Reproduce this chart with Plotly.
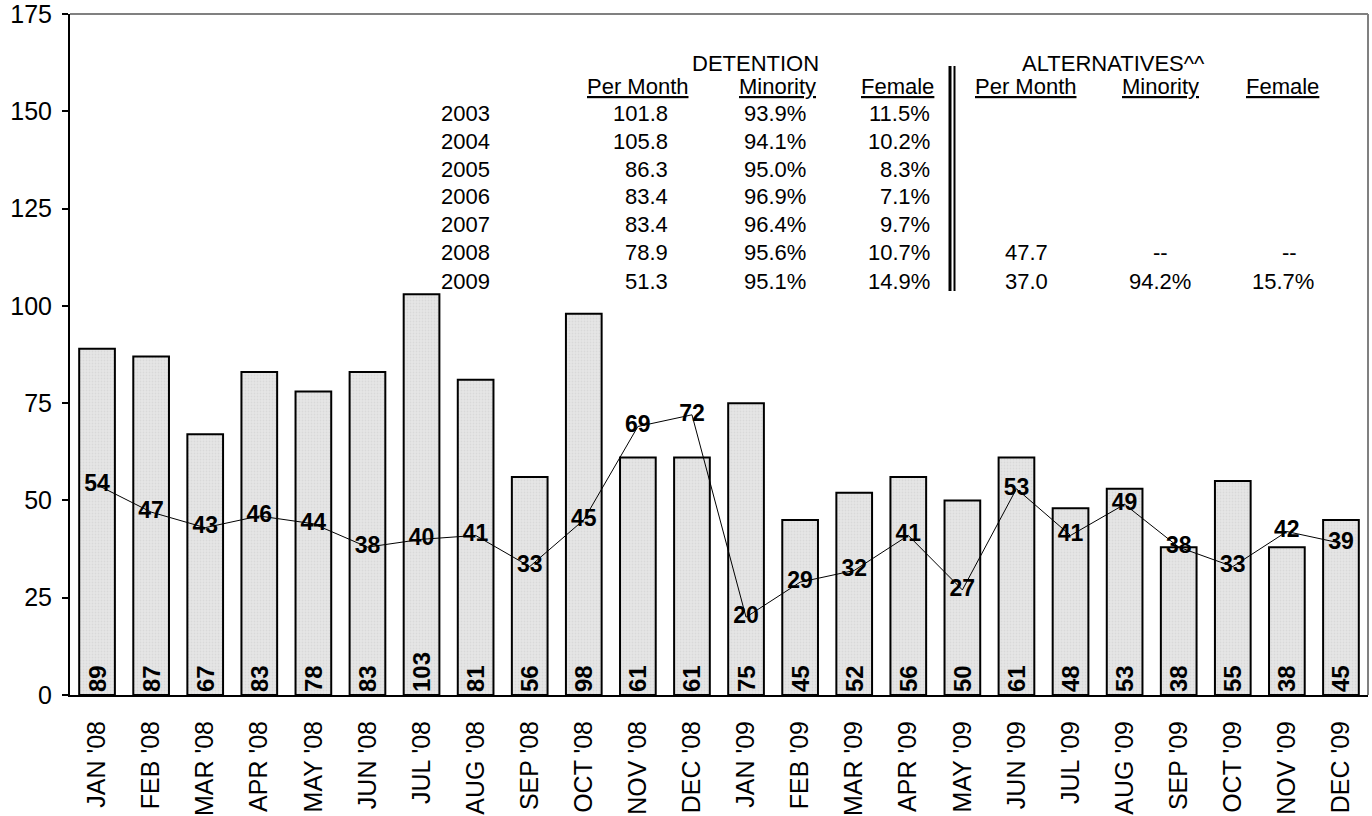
import plotly.graph_objects as go

# ---- chart data
months = ["JAN '08", "FEB '08", "MAR '08", "APR '08", "MAY '08", "JUN '08",
          "JUL '08", "AUG '08", "SEP '08", "OCT '08", "NOV '08", "DEC '08",
          "JAN '09", "FEB '09", "MAR '09", "APR '09", "MAY '09", "JUN '09",
          "JUL '09", "AUG '09", "SEP '09", "OCT '09", "NOV '09", "DEC '09"]
detention = [89, 87, 67, 83, 78, 83, 103, 81, 56, 98, 61, 61,
             75, 45, 52, 56, 50, 61, 48, 53, 38, 55, 38, 45]
alternatives = [54, 47, 43, 46, 44, 38, 40, 41, 33, 45, 69, 72,
                20, 29, 32, 41, 27, 53, 41, 49, 38, 33, 42, 39]

# ---- summary table data
years = ["2003", "2004", "2005", "2006", "2007", "2008", "2009"]
det_per_month = ["101.8", "105.8", "86.3", "83.4", "83.4", "78.9", "51.3"]
det_minority = ["93.9%", "94.1%", "95.0%", "96.9%", "96.4%", "95.6%", "95.1%"]
det_female = ["11.5%", "10.2%", "8.3%", "7.1%", "9.7%", "10.7%", "14.9%"]
alt_per_month = ["", "", "", "", "", "47.7", "37.0"]
alt_minority = ["", "", "", "", "", "--", "94.2%"]
alt_female = ["", "", "", "", "", "--", "15.7%"]
col_headers = ["Per Month", "Minority", "Female"]

FONT = "Liberation Sans, Arial, sans-serif"

# ---- plot area in pixels (used to place the table)
L, R, T, B = 70, 1368, 14, 695
def px(x):
    return (x - L) / (R - L)
def py(y):
    return (B - y) / (B - T)

fig = go.Figure()

# ---- bars
fig.add_trace(
    go.Bar(
        x = months,
        y = detention,
        width = 0.66,
        marker = dict(
            color = "#e4e4e4",
            line = dict(color = "black", width = 2),
            pattern = dict(shape = ".", fgcolor = "#cccccc", bgcolor = "#e6e6e6", size = 3, solidity = 0.3),
        ),
        text = [str(v) for v in detention],
        textposition = "inside",
        insidetextanchor = "start",
        textangle = -90,
        textfont = dict(family = FONT, size = 24, color = "black", weight = "bold"),
        cliponaxis = False,
        showlegend = False,
    )
)

# ---- line
fig.add_trace(
    go.Scatter(
        x = months,
        y = alternatives,
        mode = "lines+text",
        line = dict(color = "black", width = 1),
        text = [str(v) for v in alternatives],
        textposition = "middle center",
        textfont = dict(family = FONT, size = 23, color = "black", weight = "bold"),
        cliponaxis = False,
        showlegend = False,
    )
)

# ---- table annotations
annotations = []
def add_text(txt, x, y, anchor):
    annotations.append(dict(
        text = txt, x = px(x), y = py(y), xref = "paper", yref = "paper",
        xanchor = anchor, yanchor = "middle", showarrow = False,
        font = dict(family = FONT, size = 22, color = "black"),
    ))

add_text("DETENTION", 755, 63, "center")
add_text("ALTERNATIVES^^", 1113, 63, "center")
for h, cx in zip(col_headers, [638, 777, 897]):
    add_text("<u>" + h + "</u>", cx, 86, "center")
for h, cx in zip(col_headers, [1026, 1160, 1282]):
    add_text("<u>" + h + "</u>", cx, 86, "center")

row_y0, row_dy = 113, 28
for i in range(len(years)):
    y = row_y0 + i * row_dy
    add_text(years[i], 492, y, "right")
    add_text(det_per_month[i], 670, y, "right")
    add_text(det_minority[i], 808, y, "right")
    add_text(det_female[i], 932, y, "right")
    add_text(alt_per_month[i], 1050, y, "right")
    if alt_minority[i] == "--":
        add_text(alt_minority[i], 1160, y, "center")
        add_text(alt_female[i], 1289, y, "center")
    else:
        add_text(alt_minority[i], 1193, y, "right")
        add_text(alt_female[i], 1316, y, "right")

# ---- borders and double divider
shapes = [
    dict(type = "line", xref = "paper", yref = "paper", x0 = 0, x1 = 1, y0 = 1, y1 = 1,
         line = dict(color = "#808080", width = 2)),
    dict(type = "line", xref = "paper", yref = "paper", x0 = 1, x1 = 1, y0 = 0, y1 = 1,
         line = dict(color = "#808080", width = 2)),
    dict(type = "line", xref = "paper", yref = "paper", x0 = px(950), x1 = px(950), y0 = py(66), y1 = py(291),
         line = dict(color = "black", width = 3)),
    dict(type = "line", xref = "paper", yref = "paper", x0 = px(954.5), x1 = px(954.5), y0 = py(66), y1 = py(291),
         line = dict(color = "black", width = 2)),
]

fig.update_layout(
    width = 1372,
    height = 816,
    plot_bgcolor = "white",
    paper_bgcolor = "white",
    margin = dict(l = L, r = 1372 - R, t = T, b = 816 - B, pad = 0),
    font = dict(family = FONT, size = 22, color = "black"),
    annotations = annotations,
    shapes = shapes,
    xaxis = dict(
        type = "category",
        range = [-0.5, len(months) - 0.5],
        showline = True,
        linecolor = "black",
        linewidth = 2,
        ticks = "",
        tickangle = -90,
        tickfont = dict(family = FONT, size = 25, color = "black"),
        showgrid = False,
        ticklabelstandoff = 14,
        automargin = False,
    ),
    yaxis = dict(
        range = [0, 175.0001],
        tickvals = [0, 25, 50, 75, 100, 125, 150, 175],
        showline = True,
        linecolor = "black",
        linewidth = 2,
        ticks = "outside",
        ticklen = 6,
        tickwidth = 2,
        tickcolor = "black",
        tickfont = dict(family = FONT, size = 25, color = "black"),
        showgrid = False,
        zeroline = False,
        ticklabelstandoff = 5,
        ticklabeloverflow = "allow",
        automargin = False,
    ),
)

fig.write_html(
    "out.html",
    config = {"displayModeBar": False},
    post_script = "document.body.style.margin = '0px';",
)
